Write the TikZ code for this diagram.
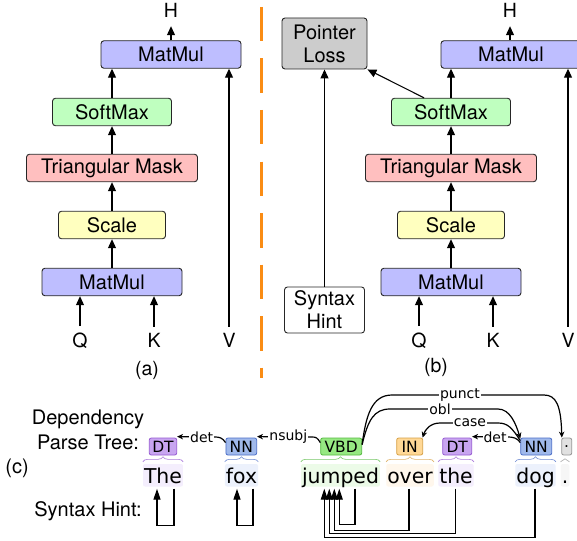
\documentclass[tikz,border=0pt]{standalone}
\usepackage{fontspec}
\setmainfont{TeX Gyre Heros}
\newfontfamily\dv{DejaVu Sans}
\usetikzlibrary{arrows.meta,calc,decorations.pathreplacing}
\definecolor{mmcol}{RGB}{190,190,255}
\definecolor{smcol}{RGB}{191,255,191}
\definecolor{tmcol}{RGB}{255,191,191}
\definecolor{sccol}{RGB}{255,255,191}
\definecolor{plcol}{RGB}{204,204,204}
\definecolor{dashor}{RGB}{250,140,20}
\definecolor{dtf}{RGB}{200,165,240}\definecolor{dtd}{RGB}{150,90,210}\definecolor{dtb}{RGB}{244,238,253}
\definecolor{nnf}{RGB}{160,185,235}\definecolor{nnd}{RGB}{75,110,200}\definecolor{nnb}{RGB}{236,241,252}
\definecolor{vbf}{RGB}{150,232,130}\definecolor{vbd}{RGB}{85,185,65}\definecolor{vbb}{RGB}{236,251,232}
\definecolor{inf}{RGB}{255,216,150}\definecolor{ind}{RGB}{215,160,70}\definecolor{inb}{RGB}{255,247,236}
\definecolor{ptf}{RGB}{225,225,225}\definecolor{ptd}{RGB}{150,150,150}\definecolor{ptb}{RGB}{246,246,246}
\begin{document}
\begin{tikzpicture}[x=1pt,y=-1pt,
  box/.style={draw=black!85, line width=0.9pt, rounded corners=3pt, minimum height=27.5pt, inner sep=0pt, font=\fontsize{20}{23}\selectfont},
  arr/.style={line width=1.1pt, -{Triangle[length=9pt,width=8pt]}},
  lbl/.style={inner sep=0pt, font=\fontsize{19.5}{22}\selectfont},
  ctext/.style={inner sep=0pt, font=\fontsize{20}{25}\selectfont},
  word/.style={font=\dv\fontsize{20.4}{24}\selectfont, anchor=base, text height=18pt, text depth=2.5pt, inner xsep=1pt, inner ysep=1pt, rounded corners=2pt},
  tag/.style={font=\dv\fontsize{15.5}{17}\selectfont, minimum height=17pt, inner xsep=1pt, inner ysep=0pt, rounded corners=2pt, line width=0.8pt},
  brc/.style={decorate, decoration={brace, amplitude=5pt}, line width=0.6pt},
  deparc/.style={line width=1.2pt, -{Stealth[length=6pt,width=5.5pt]}},
  deplbl/.style={font=\dv\fontsize{14}{16}\selectfont, fill=white, inner sep=1pt},
  hint/.style={line width=1.2pt, -{Triangle[length=11pt,width=7pt]}}
]
\clip (0,0) rectangle (577,540);
\fill[white] (0,0) rectangle (577,540);

% ---------- panel (a)
\node[box, fill=mmcol, minimum width=140pt] (am2) at (171,54.5) {MatMul};
\node[box, fill=smcol, minimum width=119pt] (asm) at (112,112) {SoftMax};
\node[box, fill=tmcol, minimum width=171pt] (atm) at (112,168) {Triangular Mask};
\node[box, fill=sccol, minimum width=107pt] (asc) at (112,225) {Scale};
\node[box, fill=mmcol, minimum width=140pt] (am1) at (112,282) {MatMul};
\node[lbl, anchor=base] (aH) at (171,17.5) {H};
\node[lbl, anchor=base] (aQ) at (80,347) {Q};
\node[lbl, anchor=base] (aK) at (154,347) {K};
\node[lbl, anchor=base] (aV) at (229,347) {V};
\node[lbl] (alab) at (147,370) {(a)};
\draw[arr] (am1) -- (asc);
\draw[arr] (asc) -- (atm);
\draw[arr] (atm) -- (asm);
\draw[arr] (asm.north) -- (asm.north |- am2.south);
\draw[arr, shorten >=8.5pt] (am2.north) -- (aH.south);
\draw[arr, shorten <=6pt] (aQ.north) -- (aQ.north |- am1.south);
\draw[arr, shorten <=6pt] (aK.north) -- (aK.north |- am1.south);
\draw[arr, shorten <=6pt] (aV.north) -- (aV.north |- am2.south);

% ---------- divider
\draw[dashor, line width=3pt, dash pattern=on 34.5pt off 17pt] (261,7) -- (261,378);

% ---------- panel (b)
\node[box, fill=mmcol, minimum width=140pt] (bm2) at (511,54.5) {MatMul};
\node[box, fill=smcol, minimum width=119pt] (bsm) at (451,112) {SoftMax};
\node[box, fill=tmcol, minimum width=171pt] (btm) at (451,168) {Triangular Mask};
\node[box, fill=sccol, minimum width=107pt] (bsc) at (451,225) {Scale};
\node[box, fill=mmcol, minimum width=140pt] (bm1) at (451,282) {MatMul};
\node[box, fill=plcol, minimum width=85pt, minimum height=51pt, align=center] (pl) at (324.5,43.5) {Pointer\\Loss};
\node[box, fill=white, minimum width=80pt, minimum height=46pt, align=center] (shb) at (324.5,310) {Syntax\\Hint};
\node[lbl, anchor=base] (bH) at (510,17.5) {H};
\node[lbl, anchor=base] (bQ) at (419,347) {Q};
\node[lbl, anchor=base] (bK) at (493,347) {K};
\node[lbl, anchor=base] (bV) at (568,347) {V};
\node[lbl] (blab) at (436,367) {(b)};
\draw[arr] (bm1) -- (bsc);
\draw[arr] (bsc) -- (btm);
\draw[arr] (btm) -- (bsm);
\draw[arr] (bsm.north) -- (bsm.north |- bm2.south);
\draw[arr, shorten >=8.5pt] (bm2.north -| bH.south) -- (bH.south);
\draw[arr, shorten <=6pt] (bQ.north) -- (bQ.north |- bm1.south);
\draw[arr, shorten <=6pt] (bK.north) -- (bK.north |- bm1.south);
\draw[arr, shorten <=6pt] (bV.north) -- (bV.north |- bm2.south);
\draw[arr] (shb) -- (pl);
\draw[arr] ($(bsm.north west)+(33,0)$) -- (pl.south east);

% ---------- panel (c)
\node[ctext, align=center] (dep) at (88,430) {Dependency\\Parse Tree:};
\node[ctext] (clab) at (17,468) {(c)};
\node[ctext] (shl) at (88,511) {Syntax Hint:};

\node[word, fill=dtb] (w1) at (163,483) {The};
\node[word, fill=nnb] (w2) at (241.5,483) {fox};
\node[word, fill=vbb] (w3) at (340.5,483) {jumped};
\node[word, fill=inb] (w4) at (410,483) {over};
\node[word, fill=dtb] (w5) at (456,483) {the};
\node[word, fill=nnb] (w6) at (535.5,483) {dog};
\node[word, fill=ptb] (w7) at (565,483) {.};

\node[tag, fill=dtf, draw=dtd, minimum width=27.4pt] (t1) at (163,446.5) {DT};
\node[tag, fill=nnf, draw=nnd, minimum width=30.7pt] (t2) at (241.3,446.5) {NN};
\node[tag, fill=vbf, draw=vbd, minimum width=41pt] (t3) at (341.2,446.5) {VBD};
\node[tag, fill=inf, draw=ind, minimum width=26pt] (t4) at (409.7,446.5) {IN};
\node[tag, fill=dtf, draw=dtd, minimum width=29pt] (t5) at (457.2,446.5) {DT};
\node[tag, fill=nnf, draw=nnd, minimum width=31pt] (t6) at (536.2,446.5) {NN};
\node[tag, fill=ptf, draw=ptd, minimum width=10pt] (t7) at (566.7,446.5) {.};

\draw[brc, dtd!80] ([yshift=2pt]w1.north west) -- ([yshift=2pt]w1.north east);
\draw[brc, nnd!80] ([yshift=2pt]w2.north west) -- ([yshift=2pt]w2.north east);
\draw[brc, vbd!80] ([yshift=2pt]w3.north west) -- ([yshift=2pt]w3.north east);
\draw[brc, ind!80] ([yshift=2pt]w4.north west) -- ([yshift=2pt]w4.north east);
\draw[brc, dtd!80] ([yshift=2pt]w5.north west) -- ([yshift=2pt]w5.north east);
\draw[brc, nnd!80] ([yshift=2pt]w6.north west) -- ([yshift=2pt]w6.north east);
\draw[brc, ptd!80, decoration={brace, amplitude=3pt}] ([yshift=2pt]w7.north west) -- ([yshift=2pt]w7.north east);

% dependency arcs
\draw[deparc] ([yshift=-5pt]t2.north west) .. controls +(-3,-5) and +(4,0) .. (215,437) -- ([yshift=1pt]t1.north east);
\draw[deparc] ([yshift=-5pt]t3.north west) .. controls +(-3,-5) and +(4,0) .. (312,437) -- ([yshift=1pt]t2.north east);
\draw[deparc] ([yshift=-7pt]t3.north east) .. controls (366,415) and (372,395) .. (392,395) -- (544,395) .. controls (556,395) and (561,405) .. ([xshift=0.5pt]t7.north west);
\draw[deparc] ([yshift=-7pt]t3.north east) .. controls (368,420) and (374,409) .. (390,409) -- (498,409) .. controls (510,409) and (516,424) .. ([yshift=-1pt]t6.north west);
\draw[deparc] ([yshift=-3pt]t6.north west) .. controls (512,428) and (508,423) .. (498,423) -- (440,423) .. controls (430,423) and (425,430) .. ([xshift=-0.5pt]t4.north east);
\draw[deparc] ([yshift=-5pt]t6.north west) .. controls +(-3,-5) and +(4,0) .. (508,437) -- ([yshift=1pt]t5.north east);
\node[deplbl] (d1) at (201.7,437) {det};
\node[deplbl] (d2) at (288.3,437) {nsubj};
\node[deplbl] (d3) at (460,395) {punct};
\node[deplbl] (d4) at (440,409) {obl};
\node[deplbl] (d5) at (470,423) {case};
\node[deplbl] (d6) at (495,437) {det};

% syntax hint arrows
\draw[hint] ([xshift=11pt,yshift=-2pt]w1.south) -- ++(0,37) -| ([xshift=-6pt,yshift=-2pt]w1.south);
\draw[hint] ([xshift=11.5pt,yshift=-2pt]w2.south) -- ++(0,37) -| ([xshift=-4.5pt,yshift=-2pt]w2.south);
\draw[hint] ([xshift=14.5pt,yshift=-2pt]w3.south) -- ++(0,35.5) -| ([xshift=-1.2pt,yshift=-2pt]w3.south);
\draw[hint] ([xshift=-1pt,yshift=-2pt]w4.south) -- ++(0,41.5) -| ([xshift=-6.2pt,yshift=-2pt]w3.south);
\draw[hint] ([xshift=-0.5pt,yshift=-2pt]w5.south) -- ++(0,45) -| ([xshift=-11.2pt,yshift=-2pt]w3.south);
\draw[hint] ([xshift=-0.5pt,yshift=-2pt]w6.south) -- ++(0,48.5) -| ([xshift=-16.2pt,yshift=-2pt]w3.south);
\end{tikzpicture}
\end{document}
